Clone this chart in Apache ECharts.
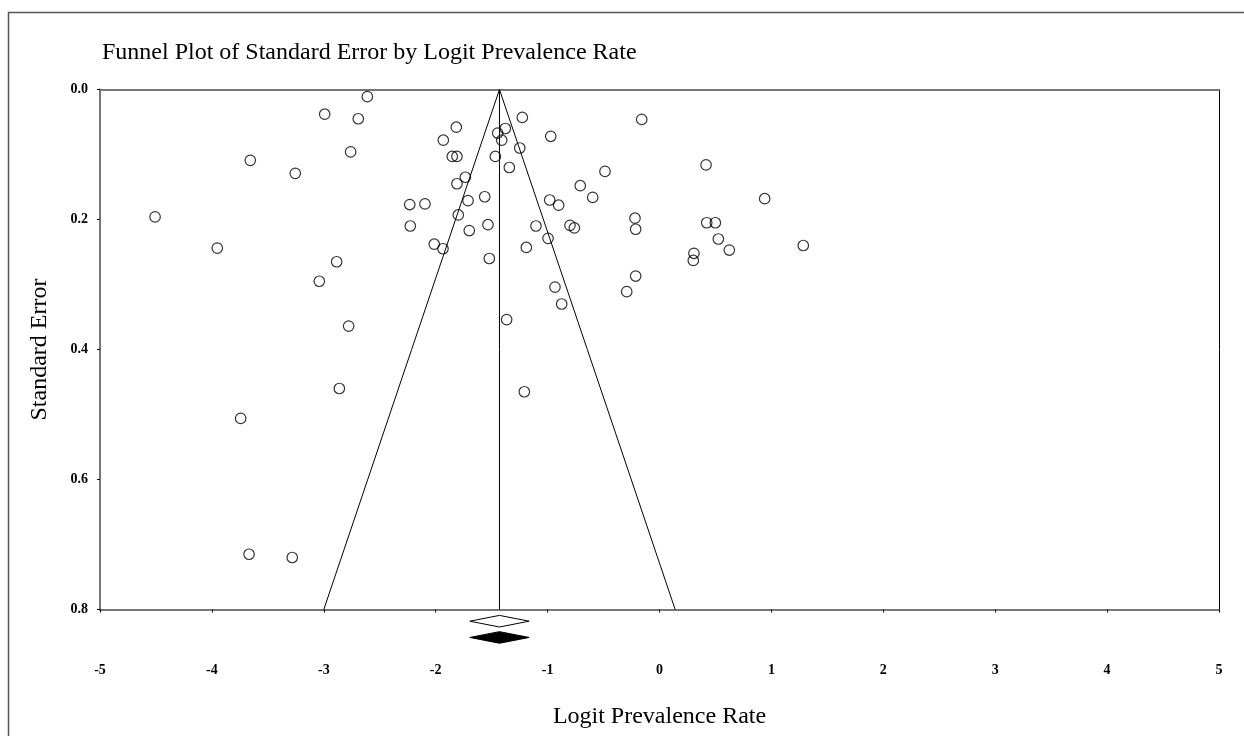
<!DOCTYPE html>
<html>
<head>
<meta charset="utf-8">
<script src="https://cdn.jsdelivr.net/npm/echarts@6/dist/echarts.min.js"></script>
<style>
html,body{margin:0;padding:0;background:#fff;}
#chart{width:1244px;height:736px;}
</style>
</head>
<body>
<div id="chart"></div>
<script>
// Study estimates: logit prevalence rate (x) and standard error (y)
const logitRate = [
  -2.611,-2.992,-2.692,-3.657,-2.760,-3.255,-4.508,-3.952,-2.885,-3.040,
  -2.778,-2.861,-3.743,-3.668,-3.282,-1.816,-1.932,-1.852,-1.810,-1.735,
  -1.810,-1.711,-1.562,-2.232,-2.096,-2.227,-1.798,-1.533,-1.700,-2.013,
  -1.935,-1.521,-1.446,-1.378,-1.410,-1.467,-1.226,-1.249,-1.342,-1.104,
  -1.190,-0.972,-0.159,0.416,-0.487,-0.708,-0.597,-0.981,-0.901,0.940,
  -0.219,-0.213,0.422,0.499,0.526,0.624,0.308,0.302,1.285,-0.800,
  -0.761,-0.996,-0.213,-0.293,-0.934,-0.874,-1.366,-1.208
];
const stdError = [
  0.011,0.038,0.045,0.109,0.096,0.129,0.196,0.244,0.265,0.295,
  0.364,0.460,0.506,0.715,0.720,0.058,0.078,0.103,0.103,0.135,
  0.145,0.171,0.165,0.177,0.176,0.210,0.193,0.208,0.217,0.238,
  0.245,0.260,0.067,0.060,0.078,0.103,0.043,0.090,0.120,0.210,
  0.243,0.072,0.046,0.116,0.126,0.148,0.166,0.170,0.178,0.168,
  0.198,0.215,0.205,0.205,0.230,0.247,0.252,0.263,0.240,0.209,
  0.213,0.229,0.287,0.311,0.304,0.330,0.354,0.465
];
// Funnel lines
const funnelLeft = [[-1.43, 0], [-3.00, 0.8]];
const funnelRight = [[-1.43, 0], [0.14, 0.8]];
const centerLine = [[-1.43, 0], [-1.43, 0.8]];
// Summary diamonds: [center, lower, upper, row position]
const diamondOpen = [[-1.43, -1.695, -1.165, 0.818]];
const diamondFilled = [[-1.43, -1.695, -1.165, 0.843]];
const xTicks = ['-5','-4','-3','-2','-1','0','1','2','3','4','5'];
const yTicks = ['0.0','0.2','0.4','0.6','0.8'];

const points = logitRate.map((x, i) => [x, stdError[i]]);
const serif = '"Liberation Serif","Times New Roman",Times,serif';

function diamondRender(fill) {
  return function (params, api) {
    const c = api.coord([api.value(0), api.value(3)]);
    const lo = api.coord([api.value(1), api.value(3)]);
    const hi = api.coord([api.value(2), api.value(3)]);
    const h = 5.8;
    return {
      type: 'polygon',
      shape: { points: [[lo[0], c[1]], [c[0], c[1] - h], [hi[0], c[1]], [c[0], c[1] + h]] },
      style: { fill: fill, stroke: '#000', lineWidth: 1 }
    };
  };
}

const chart = echarts.init(document.getElementById('chart'));
chart.setOption({
  backgroundColor: '#fff',
  animation: false,
  title: {
    text: 'Funnel Plot of Standard Error by Logit Prevalence Rate',
    left: 97, top: 36,
    textStyle: { fontFamily: serif, fontSize: 24, fontWeight: 'normal', color: '#000' }
  },
  graphic: [{
    type: 'rect', silent: true,
    shape: { x: 8.5, y: 12.5, width: 2000, height: 2000 },
    style: { fill: 'none', stroke: '#555', lineWidth: 1.5 }
  }],
  grid: { left: 100, top: 89.5, right: 25, bottom: 126.5, containLabel: false },
  xAxis: [{
    type: 'value', min: -5, max: 5, interval: 1, position: 'bottom',
    name: 'Logit Prevalence Rate', nameLocation: 'middle', nameGap: 95,
    nameTextStyle: { fontFamily: serif, fontSize: 24, color: '#000' },
    axisLine: { onZero: false, lineStyle: { color: '#777', width: 2 } },
    axisTick: { show: true, length: 3, lineStyle: { color: '#000', width: 1 } },
    axisLabel: {
      margin: 54, fontFamily: serif, fontSize: 14, fontWeight: 'bold', color: '#000',
      formatter: (v) => xTicks[Math.round(v + 5)]
    },
    splitLine: { show: false }
  }, {
    type: 'value', min: -5, max: 5, position: 'top',
    axisLine: { onZero: false, lineStyle: { color: '#777', width: 2 } },
    axisTick: { show: false }, axisLabel: { show: false }, splitLine: { show: false }
  }],
  yAxis: [{
    type: 'value', min: 0, max: 0.8, interval: 0.2, inverse: true, position: 'left',
    name: 'Standard Error', nameLocation: 'middle', nameGap: 48,
    nameTextStyle: { fontFamily: serif, fontSize: 24, color: '#000' },
    axisLine: { onZero: false, lineStyle: { color: '#777', width: 2 } },
    axisTick: { show: true, length: 3, lineStyle: { color: '#000', width: 1 } },
    axisLabel: {
      margin: 12, fontFamily: serif, fontSize: 14, fontWeight: 'bold', color: '#000',
      formatter: (v) => yTicks[Math.round(v / 0.2)]
    },
    splitLine: { show: false }
  }, {
    type: 'value', min: 0, max: 0.8, inverse: true, position: 'right',
    axisLine: { onZero: false, lineStyle: { color: '#000', width: 1 } },
    axisTick: { show: false }, axisLabel: { show: false }, splitLine: { show: false }
  }],
  series: [
    { type: 'line', data: funnelLeft, symbol: 'none', lineStyle: { color: '#000', width: 1 } },
    { type: 'line', data: funnelRight, symbol: 'none', lineStyle: { color: '#000', width: 1 } },
    { type: 'line', data: centerLine, symbol: 'none', lineStyle: { color: '#000', width: 1 } },
    {
      type: 'scatter', data: points, symbol: 'circle', symbolSize: 10.5,
      itemStyle: { color: 'rgba(255,255,255,0)', borderColor: '#000', borderWidth: 1.2 },
      z: 5
    },
    { type: 'custom', data: diamondOpen, renderItem: diamondRender('#fff'), clip: false },
    { type: 'custom', data: diamondFilled, renderItem: diamondRender('#000'), clip: false }
  ]
});
</script>
</body>
</html>
